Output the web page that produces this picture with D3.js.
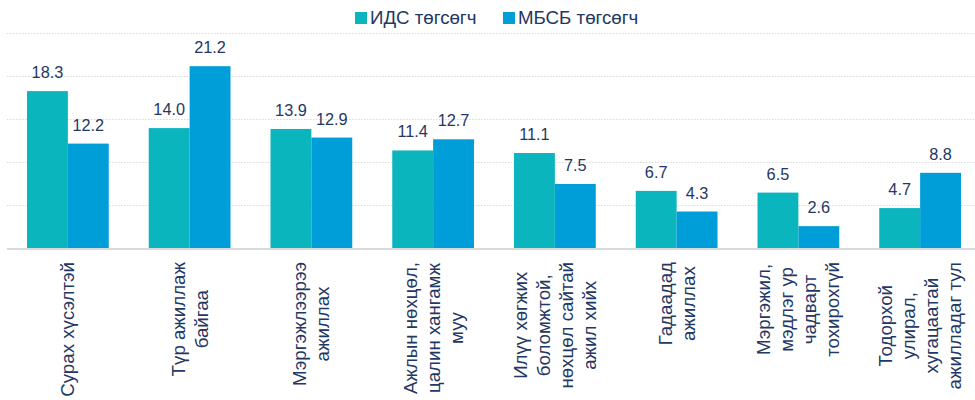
<!DOCTYPE html>
<html><head><meta charset="utf-8">
<script src="https://cdn.jsdelivr.net/npm/d3@7"></script>
<style>body{margin:0;background:#fff}svg{display:block;font-family:"Liberation Sans",Arial,sans-serif}</style>
</head><body><svg id="c" width="975" height="400"></svg>
<script>
const categories = [
  ["Сурах хүсэлтэй"],
  ["Түр ажиллаж", "байгаа"],
  ["Мэргэжлээрээ", "ажиллах"],
  ["Ажлын нөхцөл,", "цалин хангамж", "муу"],
  ["Илүү хөгжих", "боломжтой,", "нөхцөл сайтай", "ажил хийх"],
  ["Гадаадад", "ажиллах"],
  ["Мэргэжил,", "мэдлэг ур", "чадварт", "тохирохгүй"],
  ["Тодорхой", "улирал,", "хугацаатай", "ажилладаг тул"]
];
const seriesNames = ["ИДС төгсөгч", "МБСБ төгсөгч"];
const idsValues = [18.3, 14.0, 13.9, 11.4, 11.1, 6.7, 6.5, 4.7];
const mbsbValues = [12.2, 21.2, 12.9, 12.7, 7.5, 4.3, 2.6, 8.8];
const gridTicks = [5, 10, 15, 20, 25];
const colors = ["#0bb5be", "#009ed8"];
const textColor = "#1f3864";

const svg = d3.select("#c");
const x0 = d3.scaleBand().domain(d3.range(categories.length)).range([7, 981]).padding(0);
const x1 = d3.scaleBand().domain([0,1]).range([20, x0.bandwidth()-20]).padding(0);
const y = d3.scaleLinear().domain([0, 25]).range([248.5, 33.5]);

// grid
svg.append("g").selectAll("line").data(gridTicks).join("line")
  .attr("x1", 7).attr("x2", 975).attr("y1", d => y(d)).attr("y2", d => y(d))
  .attr("stroke", "#d9d9d9").attr("stroke-width", 1).attr("stroke-dasharray", "1.5,1.5");

// bars
const data = categories.map((c, i) => [idsValues[i], mbsbValues[i]]);
const g = svg.append("g");
data.forEach((vals, i) => {
  vals.forEach((v, s) => {
    const bx = x0(i) + x1(s);
    g.append("rect").attr("x", bx).attr("width", x1.bandwidth()).attr("y", y(v)).attr("height", y(0) - y(v)).attr("fill", colors[s]);
    g.append("text").attr("x", bx + x1.bandwidth()/2).attr("y", y(v) - 13).attr("text-anchor", "middle")
      .attr("font-size", 16.3).attr("fill", textColor).text(v.toFixed(1));
  });
});

// baseline
svg.append("line").attr("x1", 7).attr("x2", 975).attr("y1", y(0) + 0.5).attr("y2", y(0) + 0.5).attr("stroke", "#d9d9d9").attr("stroke-width", 2);

// category labels
const lh = 23;
categories.forEach((lines, i) => {
  const cx = x0(i) + x0.bandwidth()/2;
  const t = svg.append("text").attr("font-size", 18.7).attr("fill", textColor).attr("text-anchor", "middle");
  const n = lines.length;
  lines.forEach((ln, k) => {
    t.append("tspan").attr("x", 0).attr("y", (k - (n-1)/2) * lh + 6.5).text(ln);
  });
  let maxW = 0;
  t.selectAll("tspan").each(function(){ maxW = Math.max(maxW, this.getComputedTextLength()); });
  const cy = 262 + maxW/2;
  t.attr("transform", `translate(${cx},${cy}) rotate(-90)`);
});

// legend
const leg = svg.append("g");
const legX = [355, 503];
seriesNames.forEach((name, s) => {
  leg.append("rect").attr("x", legX[s]).attr("y", 12).attr("width", 12).attr("height", 12).attr("fill", colors[s]);
  leg.append("text").attr("x", legX[s] + 15).attr("y", 24).attr("font-size", 18.7).attr("fill", textColor).text(name);
});
</script></body></html>
